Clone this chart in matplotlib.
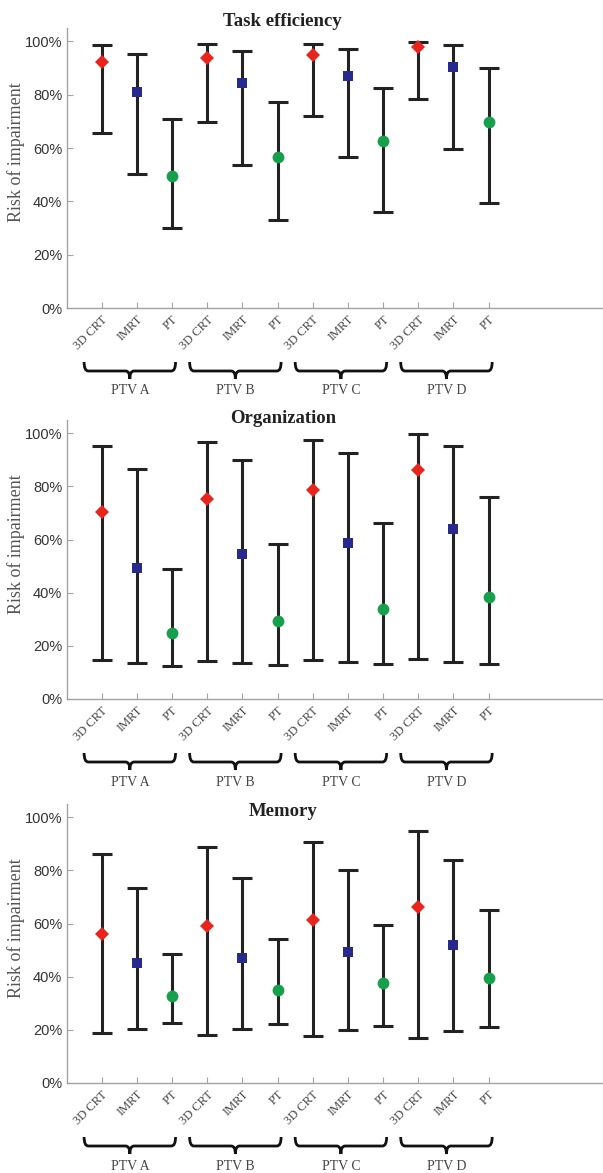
import numpy as np
import matplotlib
matplotlib.use("Agg")
import matplotlib.pyplot as plt
from matplotlib.path import Path
from matplotlib.patches import PathPatch
from matplotlib.transforms import blended_transform_factory

groups = ["PTV A", "PTV B", "PTV C", "PTV D"]
techniques = ["3D CRT", "IMRT", "PT"]
titles = ["Task efficiency", "Organization", "Memory"]

# mean / lower / upper per panel, order: A(3D CRT, IMRT, PT), B(...), C(...), D(...)
task_mean = [92.3, 80.9, 49.6, 93.9, 84.4, 56.6, 95.0, 87.0, 62.6, 98.0, 90.3, 69.6]
task_low = [65.8, 50.3, 30.0, 69.8, 53.6, 33.1, 72.1, 56.5, 36.1, 78.2, 59.6, 39.4]
task_high = [98.5, 95.1, 70.7, 98.9, 96.3, 77.2, 99.0, 97.3, 82.4, 99.9, 98.5, 89.9]

org_mean = [70.4, 49.3, 24.9, 75.3, 54.5, 29.4, 78.6, 58.7, 33.8, 86.3, 63.8, 38.4]
org_low = [14.6, 13.6, 12.6, 14.3, 13.7, 12.7, 14.7, 13.8, 13.0, 15.2, 14.1, 13.1]
org_high = [95.3, 86.7, 49.1, 96.6, 89.9, 58.5, 97.4, 92.5, 66.3, 99.7, 95.3, 76.2]

mem_mean = [56.0, 45.0, 32.7, 59.1, 47.2, 35.1, 61.4, 49.4, 37.5, 66.2, 51.8, 39.7]
mem_low = [18.8, 20.4, 22.7, 18.0, 20.2, 22.2, 17.7, 19.8, 21.6, 17.0, 19.4, 21.2]
mem_high = [86.1, 73.4, 48.7, 88.8, 77.2, 54.3, 90.6, 80.2, 59.4, 95.0, 83.8, 65.0]

panels = [
    (task_mean, task_low, task_high),
    (org_mean, org_low, org_high),
    (mem_mean, mem_low, mem_high),
]

marker_styles = [("D", "#e8241d", 7.5), ("s", "#27298c", 7), ("o", "#17a04c", 8.5)]

serif = "Liberation Serif"
sans = "Liberation Sans"
spine_col = "#a3a3a3"

fig = plt.figure(figsize=(6.03, 11.73), dpi=100)
H = 1173.0
W = 603.0
# (axes top px, axes bottom px, title y px)
boxes = [(28, 308, 22), (420, 699, 418), (804, 1083, 811)]

x = np.arange(1, 13)
labels = techniques * 4

for p, (mean, low, high) in enumerate(panels):
    top, bot, ty = boxes[p]
    left = 66.5 / W
    ax = fig.add_axes([left, 1 - bot / H, 1 - left, (bot - top) / H])
    mean = np.array(mean)
    low = np.array(low)
    high = np.array(high)
    for k, (mk, col, ms) in enumerate(marker_styles):
        idx = np.arange(k, 12, 3)
        ax.errorbar(x[idx], mean[idx], yerr=[mean[idx] - low[idx], high[idx] - mean[idx]],
                    fmt="none", ecolor="#222222", elinewidth=2.2, capsize=7.5, capthick=2.2, zorder=2)
        ax.plot(x[idx], mean[idx], linestyle="none", marker=mk, color=col, markersize=ms,
                markeredgewidth=0, zorder=3)

    ax.set_xlim(0, 15.25)
    ax.set_ylim(0, 105)
    ax.set_yticks([0, 20, 40, 60, 80, 100])
    ax.set_yticklabels([f"{v}%" for v in [0, 20, 40, 60, 80, 100]], fontfamily=sans,
                       fontsize=10.5, color="#333333")
    ax.set_xticks(x)
    ax.set_xticklabels(labels, rotation=45, ha="right", rotation_mode="anchor",
                       fontfamily=serif, fontsize=9, color="#444444")
    ax.tick_params(axis="both", direction="in", length=4, color=spine_col, width=0.8)
    ax.tick_params(axis="x", pad=4)
    ax.tick_params(axis="y", pad=3)
    for s in ["top", "right"]:
        ax.spines[s].set_visible(False)
    for s in ["left", "bottom"]:
        ax.spines[s].set_color(spine_col)
        ax.spines[s].set_linewidth(1.0)

    ax.set_ylabel("Risk of impairment", fontfamily=serif, fontsize=13, color="#555555")
    ax.yaxis.set_label_coords(-0.077, 0.555)
    ah = bot - top
    ax.text(0.403, 1 + (top - ty) / ah, titles[p], transform=ax.transAxes,
            ha="center", va="center", fontfamily=serif, fontsize=13.5, fontweight="bold",
            color="#222222")

    # group braces
    tr = blended_transform_factory(ax.transData, ax.transAxes)
    yt = -54 / ah
    yl = -63 / ah
    yb = -71 / ah
    r = 0.12
    for g, name in enumerate(groups):
        x0 = 3 * g + 0.5
        x1 = 3 * g + 3.1
        xc = 3 * g + 1.8
        verts = [(x0, yt), (x0, yl), (x0 + r, yl), (xc - r, yl), (xc, yl), (xc, yb),
                 (xc, yl), (xc + r, yl), (x1 - r, yl), (x1, yl), (x1, yt)]
        codes = [Path.MOVETO, Path.CURVE3, Path.CURVE3, Path.LINETO, Path.CURVE3, Path.CURVE3,
                 Path.CURVE3, Path.CURVE3, Path.LINETO, Path.CURVE3, Path.CURVE3]
        ax.add_patch(PathPatch(Path(verts, codes), transform=tr, fill=False, lw=2,
                               edgecolor="#111111", clip_on=False))
        ax.text(xc, -83 / ah, name, transform=tr, ha="center", va="center",
                fontfamily=serif, fontsize=10, color="#444444")

fig.savefig("out.png", dpi=100)
